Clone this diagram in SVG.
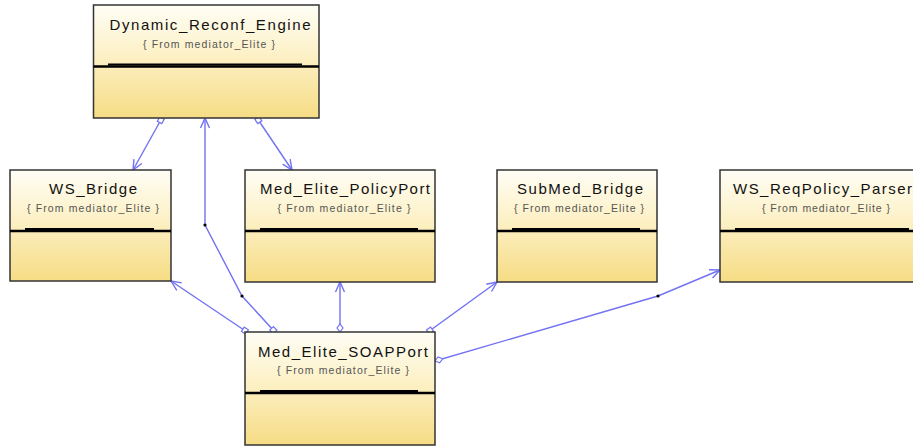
<svg xmlns="http://www.w3.org/2000/svg" width="913" height="448" viewBox="0 0 913 448">
<style>
.box{stroke:#333;stroke-width:1.5;fill:url(#g)}
.div{stroke:#000;stroke-width:2.5}
.bev{stroke:#000;stroke-width:2}
.t{font-family:"Liberation Sans",Arial,sans-serif;font-size:15px;fill:#111;text-anchor:middle}
.s{font-family:"Liberation Sans",Arial,sans-serif;font-size:10.5px;fill:#555;text-anchor:middle}
.c{fill:none;stroke:#7272f4;stroke-width:1.4}
.dot{fill:#000}
</style>
<defs>
<linearGradient id="g" x1="0" y1="0" x2="0" y2="1">
<stop offset="0" stop-color="#fffef6"/>
<stop offset="0.5" stop-color="#fcefc0"/>
<stop offset="1" stop-color="#f6dc84"/>
</linearGradient>
<marker id="arr" viewBox="-11 -6 13 12" refX="0" refY="0" markerWidth="13" markerHeight="12" markerUnits="userSpaceOnUse" orient="auto">
<path d="M-10,-4.5 L0,0 L-10,4.5" fill="none" stroke="#7272f4" stroke-width="1.4"/>
</marker>
<marker id="sq" viewBox="-1 -4 8 8" refX="0" refY="0" markerWidth="8" markerHeight="8" markerUnits="userSpaceOnUse" orient="auto">
<rect x="0" y="-2.5" width="5" height="5" fill="#fff" stroke="#7272f4" stroke-width="1.2"/>
</marker>
<marker id="dm" viewBox="-1 -4 11 8" refX="0" refY="0" markerWidth="11" markerHeight="8" markerUnits="userSpaceOnUse" orient="auto">
<path d="M0,0 L4,-3 L8,0 L4,3 Z" fill="#fff" stroke="#7272f4" stroke-width="1.2"/>
</marker>
</defs>
<rect width="913" height="448" fill="#fff"/>

<g id="connectors">
<path class="c" d="M162,118 L133,170" marker-start="url(#sq)" marker-end="url(#arr)"/>
<path class="c" d="M257,118 L292,170" marker-start="url(#sq)" marker-end="url(#arr)"/>
<path class="c" d="M275,332 L242,296 L205,225 L205,118" marker-start="url(#sq)" marker-end="url(#arr)"/>
<path class="c" d="M247,332 L171,281" marker-start="url(#sq)" marker-end="url(#arr)"/>
<path class="c" d="M340,332 L340,282" marker-start="url(#dm)" marker-end="url(#arr)"/>
<path class="c" d="M428,332 L497,282" marker-start="url(#sq)" marker-end="url(#arr)"/>
<path class="c" d="M435,361 L658,296 L720,270" marker-start="url(#dm)" marker-end="url(#arr)"/>
<circle class="dot" cx="242" cy="296" r="1.6"/>
<circle class="dot" cx="205" cy="225" r="1.6"/>
<circle class="dot" cx="658" cy="296" r="1.6"/>
</g>

<g id="Dynamic_Reconf_Engine">
<rect class="box" x="93.5" y="5" width="225.5" height="113"/>
<line class="div" x1="93.5" y1="66.5" x2="319" y2="66.5"/>
<line class="bev" x1="108" y1="64.5" x2="302" y2="64.5"/>
<text class="t" x="210" y="30" textLength="201" lengthAdjust="spacing">Dynamic_Reconf_Engine</text>
<text class="s" x="209" y="48" textLength="132" lengthAdjust="spacing">{ From mediator_Elite }</text>
</g>

<g id="WS_Bridge">
<rect class="box" x="10" y="170" width="161" height="111"/>
<line class="div" x1="10" y1="231" x2="171" y2="231"/>
<line class="bev" x1="25" y1="229" x2="154" y2="229"/>
<text class="t" x="93" y="194" textLength="88" lengthAdjust="spacing">WS_Bridge</text>
<text class="s" x="93" y="212" textLength="132" lengthAdjust="spacing">{ From mediator_Elite }</text>
</g>

<g id="Med_Elite_PolicyPort">
<rect class="box" x="245" y="170" width="190" height="112"/>
<line class="div" x1="245" y1="231" x2="435" y2="231"/>
<line class="bev" x1="260" y1="229" x2="418" y2="229"/>
<text class="t" x="345" y="194" textLength="170" lengthAdjust="spacing">Med_Elite_PolicyPort</text>
<text class="s" x="344" y="212" textLength="133" lengthAdjust="spacing">{ From mediator_Elite }</text>
</g>

<g id="SubMed_Bridge">
<rect class="box" x="497" y="170" width="160" height="112"/>
<line class="div" x1="497" y1="231" x2="657" y2="231"/>
<line class="bev" x1="512" y1="229" x2="640" y2="229"/>
<text class="t" x="580" y="194" textLength="126" lengthAdjust="spacing">SubMed_Bridge</text>
<text class="s" x="579" y="212" textLength="130" lengthAdjust="spacing">{ From mediator_Elite }</text>
</g>

<g id="WS_ReqPolicy_Parser">
<rect class="box" x="720" y="170" width="206" height="112"/>
<line class="div" x1="720" y1="231" x2="926" y2="231"/>
<line class="bev" x1="735" y1="229" x2="909" y2="229"/>
<text class="t" x="822.5" y="194" textLength="179" lengthAdjust="spacing">WS_ReqPolicy_Parser</text>
<text class="s" x="826" y="212" textLength="128" lengthAdjust="spacing">{ From mediator_Elite }</text>
</g>

<g id="Med_Elite_SOAPPort">
<rect class="box" x="245" y="332" width="190" height="113"/>
<line class="div" x1="245" y1="393" x2="435" y2="393"/>
<line class="bev" x1="260" y1="391" x2="418" y2="391"/>
<text class="t" x="343" y="357" textLength="170" lengthAdjust="spacing">Med_Elite_SOAPPort</text>
<text class="s" x="343" y="374" textLength="132" lengthAdjust="spacing">{ From mediator_Elite }</text>
</g>
</svg>
